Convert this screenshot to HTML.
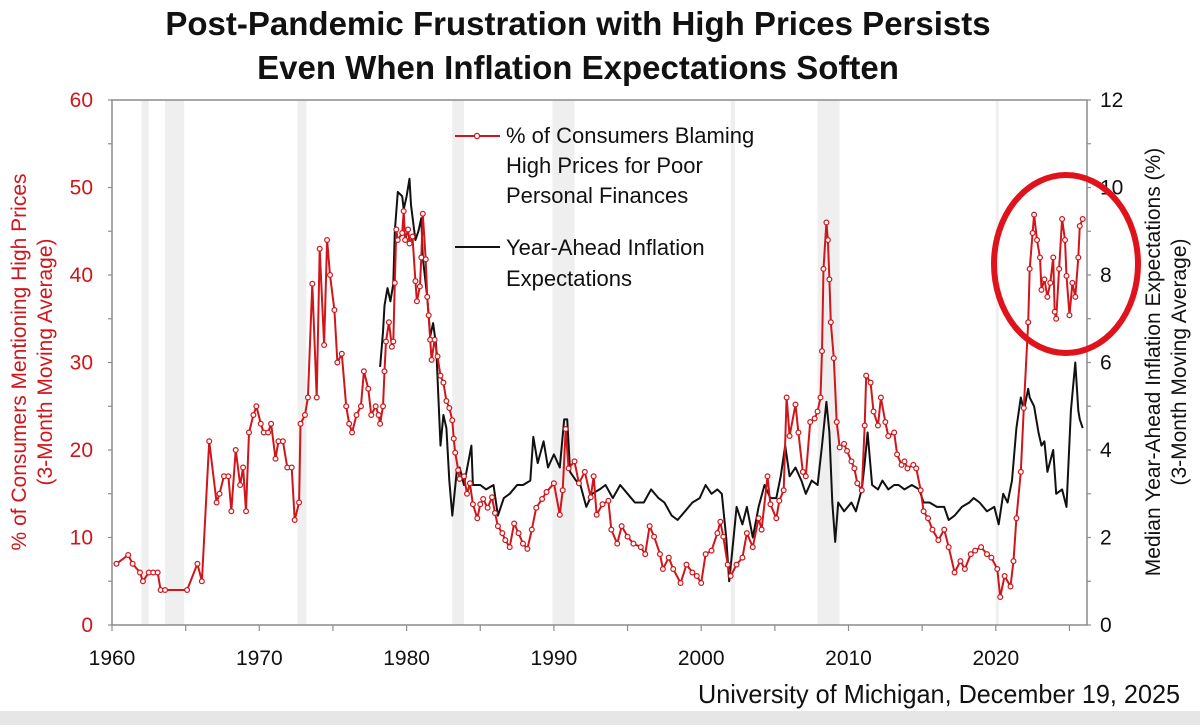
<!DOCTYPE html>
<html><head><meta charset="utf-8"><style>
body{margin:0;background:#fff;}
svg{display:block;font-family:"Liberation Sans",Arial,sans-serif;}
</style></head><body>
<svg id="chart" width="1200" height="725" viewBox="0 0 1200 725">
<rect x="0" y="0" width="1200" height="725" fill="#fff"/>
<rect x="0" y="711" width="1200" height="14" fill="#e6e6e6"/>
<text x="578" y="35" text-anchor="middle" font-size="33" font-weight="bold" fill="#111">Post-Pandemic Frustration with High Prices Persists</text>
<text x="578" y="79" text-anchor="middle" font-size="33" font-weight="bold" fill="#111">Even When Inflation Expectations Soften</text>
<g id="bands"></g>
<g id="axes"></g>
<g id="series"></g>
<g fill="#d0161b" font-size="21">
<text transform="translate(26,362) rotate(-90)" text-anchor="middle">% of Consumers Mentioning High Prices</text>
<text transform="translate(52,362) rotate(-90)" text-anchor="middle">(3-Month Moving Average)</text>
</g>
<g fill="#111" font-size="21">
<text transform="translate(1160,362) rotate(-90)" text-anchor="middle">Median Year-Ahead Inflation Expectations (%)</text>
<text transform="translate(1186,362) rotate(-90)" text-anchor="middle">(3-Month Moving Average)</text>
</g>
<g font-size="22" fill="#111">
<g>
<line x1="455" y1="136" x2="500" y2="136" stroke="#d0161b" stroke-width="2"/>
<circle cx="477" cy="136" r="2.6" fill="#fff" stroke="#d0161b" stroke-width="1.3"/>
<text x="506" y="143">% of Consumers Blaming</text>
<text x="506" y="173">High Prices for Poor</text>
<text x="506" y="203">Personal Finances</text>
</g>
<g>
<line x1="455" y1="247" x2="500" y2="247" stroke="#111" stroke-width="2"/>
<text x="506" y="255">Year-Ahead Inflation</text>
<text x="506" y="286">Expectations</text>
</g>
</g>
<ellipse cx="1066" cy="264" rx="72" ry="89" fill="none" stroke="#e0121b" stroke-width="6"/>
<text x="1180" y="703" text-anchor="end" font-size="26" fill="#111" textLength="482" lengthAdjust="spacingAndGlyphs">University of Michigan, December 19, 2025</text>
</svg>
<script>
const xTickYears = [1960,1970,1980,1990,2000,2010,2020];
const leftTicks = [0,10,20,30,40,50,60];
const rightTicks = [0,2,4,6,8,10,12];
const bandStarts = [1962.0,1963.6,1972.6,1983.1,1989.9,2002.0,2007.9,2020.0];
const bandEnds   = [1962.5,1964.9,1973.2,1983.9,1991.4,2002.3,2009.4,2020.2];
const redYears = [1960.3,1961.1,1961.4,1961.9,1962.1,1962.5,1962.8,1963.1,1963.3,1963.6,1965.1,1965.8,1966.1,1966.6,1967.1,1967.3,1967.6,1967.9,1968.1,1968.4,1968.7,1968.9,1969.1,1969.3,1969.6,1969.8,1970.1,1970.3,1970.6,1970.8,1971.1,1971.3,1971.6,1971.9,1972.2,1972.4,1972.7,1972.8,1973.1,1973.3,1973.6,1973.9,1974.1,1974.4,1974.6,1974.8,1975.1,1975.3,1975.6,1975.9,1976.1,1976.3,1976.6,1976.9,1977.1,1977.4,1977.6,1977.9,1978.1,1978.2,1978.4,1978.5,1978.6,1978.8,1979.0,1979.1,1979.2,1979.3,1979.4,1979.7,1979.8,1979.9,1980.1,1980.2,1980.4,1980.6,1980.7,1980.9,1981.0,1981.1,1981.3,1981.4,1981.5,1981.6,1981.7,1981.9,1982.1,1982.3,1982.5,1982.7,1982.9,1983.1,1983.2,1983.3,1983.5,1983.6,1983.9,1984.1,1984.3,1984.5,1984.8,1985.0,1985.2,1985.5,1985.8,1986.0,1986.2,1986.5,1986.7,1987.0,1987.3,1987.6,1987.9,1988.2,1988.5,1988.8,1989.2,1989.5,1990.0,1990.4,1990.6,1990.8,1991.0,1991.4,1991.7,1992.1,1992.5,1992.7,1992.9,1993.3,1993.7,1993.9,1994.3,1994.6,1995.0,1995.4,1995.9,1996.2,1996.5,1996.8,1997.2,1997.4,1997.8,1998.1,1998.6,1999.0,1999.4,1999.7,2000.0,2000.3,2000.7,2001.1,2001.3,2001.5,2001.8,2002.0,2002.4,2002.8,2003.1,2003.5,2003.9,2004.1,2004.5,2004.7,2005.1,2005.3,2005.6,2005.8,2006.0,2006.4,2006.6,2006.9,2007.1,2007.4,2007.7,2007.9,2008.1,2008.2,2008.3,2008.5,2008.6,2008.7,2008.8,2009.0,2009.2,2009.4,2009.7,2009.9,2010.2,2010.4,2010.6,2010.9,2011.1,2011.2,2011.5,2011.7,2012.0,2012.2,2012.5,2012.7,2013.1,2013.3,2013.6,2013.8,2014.0,2014.4,2014.6,2014.9,2015.1,2015.4,2015.7,2016.1,2016.5,2016.8,2017.2,2017.6,2017.9,2018.3,2018.6,2019.0,2019.4,2019.7,2020.1,2020.3,2020.6,2021.0,2021.2,2021.4,2021.7,2021.9,2022.2,2022.3,2022.5,2022.6,2022.8,2023.0,2023.1,2023.3,2023.5,2023.7,2023.9,2024.0,2024.1,2024.3,2024.5,2024.7,2024.8,2025.0,2025.2,2025.4,2025.6,2025.7,2025.9];
const redValues = [7,8,7,6,5,6,6,6,4,4,4,7,5,21,14,15,17,17,13,20,16,18,13,22,24,25,23,22,22,23,19,21,21,18,18,12,14,23,24,26,39,26,43,32,44,40,36,30,31,25,23,22,24,25,29,27,24,25,24,23,25,29,32.4,34.6,31.8,32.4,39.1,45.2,44,44.8,47.3,44,45.2,43.6,44.4,39.3,37,38.7,42,47,41.8,37.5,35.4,32.6,30.3,32.6,30.7,28.5,27.7,25.6,24.8,23.4,21.3,19.7,17.7,16.7,17,15,16.2,13.8,12.2,13.8,14.4,13.4,14.6,12.8,11.3,10.5,9.7,8.9,11.6,10.5,9.3,8.7,10.9,13.4,14.4,15.2,16.2,12.6,15.4,22.4,17.9,18.7,16.2,17.5,14.6,17,12.6,13.8,14.2,10.9,9.3,11.3,10.1,9.3,8.9,8.1,11.3,10.1,8.1,6.4,7.7,6.4,4.8,6.9,6,5.6,4.8,8.1,8.5,10.5,11.8,10.1,6.9,5.6,6.9,7.7,10.5,8.9,12.2,10.9,17,13.8,12.2,14.2,15.4,26,21.6,25.2,22,17.5,17,23.2,23.6,24.4,26,31.3,40.7,46,44,39.5,34.6,30.5,23.2,20.3,20.7,19.9,18.7,17.9,16.2,15.4,22.8,28.5,27.7,24.4,22.8,26,23.2,21.6,22,19.5,18.3,18.7,17.9,18.3,17.9,15.4,13,12.2,10.9,9.7,10.9,8.9,6,7.3,6.4,8.1,8.5,8.9,8.1,7.7,6.4,3.2,5.6,4.4,7.3,12.2,17.5,24.8,34.6,40.7,44.8,46.9,44,42,38.3,39.5,37.5,39.1,42,35.8,35,40.7,46.4,44,39.9,35.4,39.1,37.5,42,45.6,46.4];
const blackYears = [1978.2,1978.4,1978.5,1978.7,1978.9,1979.1,1979.2,1979.4,1979.7,1979.8,1980.0,1980.2,1980.3,1980.6,1980.8,1981.0,1981.1,1981.4,1981.6,1981.8,1982.0,1982.3,1982.5,1982.7,1982.9,1983.1,1983.4,1983.6,1983.9,1984.4,1984.5,1985.0,1985.4,1985.9,1986.2,1986.6,1987.0,1987.5,1987.9,1988.4,1988.6,1988.9,1989.3,1989.6,1990.0,1990.4,1990.7,1990.9,1991.1,1991.5,1991.8,1992.2,1992.6,1993.1,1993.5,1994.0,1994.5,1995.0,1995.5,1996.1,1996.6,1997.1,1997.5,1998.0,1998.4,1998.9,1999.4,1999.9,2000.3,2000.7,2001.1,2001.4,2001.7,2001.9,2002.2,2002.4,2002.8,2003.1,2003.5,2003.9,2004.3,2004.7,2005.1,2005.4,2005.7,2006.0,2006.4,2006.8,2007.1,2007.5,2007.9,2008.2,2008.5,2008.7,2008.9,2009.1,2009.3,2009.7,2010.2,2010.5,2010.9,2011.1,2011.3,2011.6,2012.0,2012.3,2012.7,2013.1,2013.4,2013.8,2014.3,2014.8,2015.1,2015.5,2016.0,2016.5,2016.8,2017.2,2017.7,2018.2,2018.5,2018.9,2019.4,2019.9,2020.2,2020.5,2020.8,2021.1,2021.4,2021.7,2021.9,2022.2,2022.3,2022.6,2022.9,2023.1,2023.3,2023.5,2023.9,2024.1,2024.5,2024.8,2025.1,2025.4,2025.6,2025.7,2025.9];
const blackValues = [5.9,6.7,7.3,7.7,7.4,7.8,9.0,9.9,9.8,9.5,9.8,10.2,9.6,8.8,9.0,9.3,8.4,7.5,6.6,6.9,6.4,4.1,4.8,4.5,3.3,2.5,3.5,3.6,3.2,4.1,3.2,3.2,3.1,3.2,2.5,2.9,3.0,3.2,3.2,3.3,4.3,3.7,4.2,3.6,3.9,3.6,4.7,4.7,3.5,3.3,3.2,2.7,3.0,3.1,3.2,2.9,3.2,3.0,2.8,2.8,3.1,2.9,2.8,2.5,2.4,2.6,2.8,2.9,3.2,3.0,3.1,3.0,2.0,1.0,2.0,2.7,2.3,2.7,2.0,2.7,3.2,2.9,2.9,3.4,4.1,3.4,3.6,3.3,3.0,3.3,3.2,4.1,5.1,4.4,2.8,1.9,2.8,2.6,2.8,2.6,3.1,3.7,4.4,3.2,3.1,3.3,3.1,3.2,3.2,3.1,3.2,3.1,2.8,2.8,2.7,2.7,2.4,2.5,2.7,2.8,2.9,2.8,2.6,2.7,2.3,3.0,2.8,3.3,4.5,5.2,4.9,5.4,5.2,5.0,4.4,4.1,4.2,3.5,4.0,3.0,3.1,2.7,4.9,6.0,4.9,4.7,4.5];

const NS = 'http://www.w3.org/2000/svg';
const X0 = 112, Y0 = 625, YTOP = 100, XR = 1087;
function xs(yr){ return X0 + (yr - 1960) * 14.73; }
function yl(v){ return Y0 - v * (Y0 - YTOP) / 60; }
function yr(v){ return Y0 - v * (Y0 - YTOP) / 12; }
function mk(tag, attrs, parent){ const e = document.createElementNS(NS, tag); for (const k in attrs) e.setAttribute(k, attrs[k]); parent.appendChild(e); return e; }

const bands = document.getElementById('bands');
for (let i = 0; i < bandStarts.length; i++) {
  const r = mk('rect', {x: xs(bandStarts[i]), y: YTOP, width: xs(bandEnds[i]) - xs(bandStarts[i]), height: Y0 - YTOP, fill: '#efefef'}, bands);
  
  
}

const axes = document.getElementById('axes');
const frame = mk('path', {d: `M${X0},${YTOP}H${XR}V${Y0}H${X0}Z`, fill: 'none', stroke: '#8c8c8c', 'stroke-width': 1.5}, axes);


for (let v = 0; v <= 60; v += 5) {
  mk('line', {x1: X0 - 4, x2: X0, y1: yl(v), y2: yl(v), stroke: '#8c8c8c', 'stroke-width': 1.2}, axes);
  mk('line', {x1: XR, x2: XR + 4, y1: yl(v), y2: yl(v), stroke: '#8c8c8c', 'stroke-width': 1.2}, axes);
}
for (let y = 1960; y <= 2025; y += 5) {
  mk('line', {x1: xs(y), x2: xs(y), y1: Y0, y2: Y0 + 6, stroke: '#8c8c8c', 'stroke-width': 1.2}, axes);
}
leftTicks.forEach(v => {
  const t = mk('text', {x: 93, y: yl(v) + 7, 'text-anchor': 'end', 'font-size': 21, fill: '#d0161b'}, axes);
  t.textContent = v;
  
  
});
rightTicks.forEach(v => {
  const t = mk('text', {x: 1100, y: yr(v) + 7, 'text-anchor': 'start', 'font-size': 21, fill: '#111'}, axes);
  t.textContent = v;
  
  
});
xTickYears.forEach(y => {
  const t = mk('text', {x: xs(y), y: 665, 'text-anchor': 'middle', 'font-size': 21, fill: '#111'}, axes);
  t.textContent = y;
  
  
});

const series = document.getElementById('series');
const bpts = blackYears.map((y, i) => xs(y).toFixed(1) + ',' + yr(blackValues[i]).toFixed(1)).join(' ');
const bl = mk('polyline', {points: bpts, fill: 'none', stroke: '#111', 'stroke-width': 2, 'stroke-linejoin': 'round'}, series);


const rpts = redYears.map((y, i) => xs(y).toFixed(1) + ',' + yl(redValues[i]).toFixed(1)).join(' ');
const rl = mk('polyline', {points: rpts, fill: 'none', stroke: '#d0161b', 'stroke-width': 2, 'stroke-linejoin': 'round'}, series);


redYears.forEach((y, i) => {
  const c = mk('circle', {cx: xs(y), cy: yl(redValues[i]), r: 2.4, fill: '#fff', stroke: '#d0161b', 'stroke-width': 1.2}, series);
  
  
});
</script>
</body></html>
